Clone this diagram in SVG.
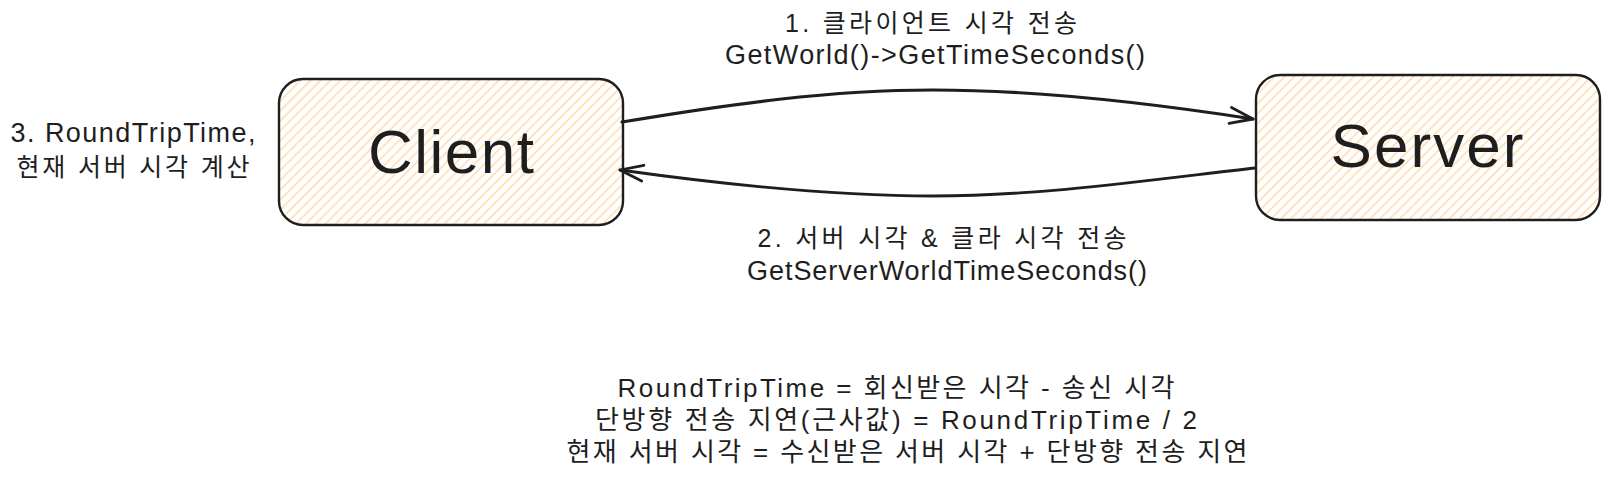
<svg xmlns="http://www.w3.org/2000/svg" width="1609" height="485" viewBox="0 0 1609 485">
  <style>
    .box { fill: url(#hatch); stroke: #1e1e1e; stroke-width: 2.4; }
    .node-label { font-family: "Liberation Sans", "Noto Sans CJK KR", sans-serif; font-size: 62px; fill: #1e1e1e; text-anchor: middle; }
    .label { font-family: "Liberation Sans", "Noto Sans CJK KR", sans-serif; font-size: 25px; fill: #1e1e1e; text-anchor: middle; }
    .latin { font-size: 27px; }
    .mixed { font-size: 26px; }
    .conn { fill: none; stroke: #1e1e1e; stroke-width: 2.8; stroke-linecap: round; }
  </style>
  <defs>
    <pattern id="hatch" patternUnits="userSpaceOnUse" width="7" height="7" patternTransform="rotate(45)">
      <line x1="3.5" y1="0" x2="3.5" y2="7" stroke="#ffd8a8" stroke-width="1.5"/>
    </pattern>
    <marker id="arrow" markerUnits="userSpaceOnUse" markerWidth="30" markerHeight="30" refX="0" refY="0" orient="auto" style="overflow:visible">
      <path d="M -23 -8 L 0 0 L -23 8" fill="none" stroke="#1e1e1e" stroke-width="2.8" stroke-linecap="round" stroke-linejoin="round"/>
    </marker>
  </defs>
  <rect width="1609" height="485" fill="#ffffff"/>

  <g id="client">
    <rect class="box" x="279" y="79" width="344" height="146" rx="24" ry="24"/>
    <text class="node-label" x="451" y="173" textLength="166">Client</text>
  </g>

  <g id="server">
    <rect class="box" x="1256" y="75" width="344" height="145" rx="24" ry="24"/>
    <text class="node-label" x="1427" y="167" textLength="193">Server</text>
  </g>

  <g id="connectors">
    <path class="conn" style="stroke-width:3.2" d="M622,122 C730,104 830,90 933,90 C1040,90 1150,103 1253,119" marker-end="url(#arrow)"/>
    <path class="conn" d="M1255,168 C1150,180 1040,196 933,196 C830,196 720,184 620,170" marker-end="url(#arrow)"/>
  </g>

  <g id="label-send">
    <text class="label" x="931" y="32" textLength="292">1. 클라이언트 시각 전송</text>
    <text class="label latin" x="935" y="64" textLength="420">GetWorld()-&gt;GetTimeSeconds()</text>
  </g>

  <g id="label-reply">
    <text class="label" x="942" y="247" textLength="369">2. 서버 시각 &amp; 클라 시각 전송</text>
    <text class="label latin" x="947" y="280" textLength="400">GetServerWorldTimeSeconds()</text>
  </g>

  <g id="label-compute">
    <text class="label latin" x="133" y="142" textLength="245">3. RoundTripTime,</text>
    <text class="label" x="133" y="176" textLength="233">현재 서버 시각 계산</text>
  </g>

  <g id="formula">
    <text class="label mixed" x="896" y="397" textLength="557">RoundTripTime = 회신받은 시각 - 송신 시각</text>
    <text class="label mixed" x="896" y="429" textLength="602">단방향 전송 지연(근사값) = RoundTripTime / 2</text>
    <text class="label mixed" x="907" y="461" textLength="681">현재 서버 시각 = 수신받은 서버 시각 + 단방향 전송 지연</text>
  </g>
</svg>
